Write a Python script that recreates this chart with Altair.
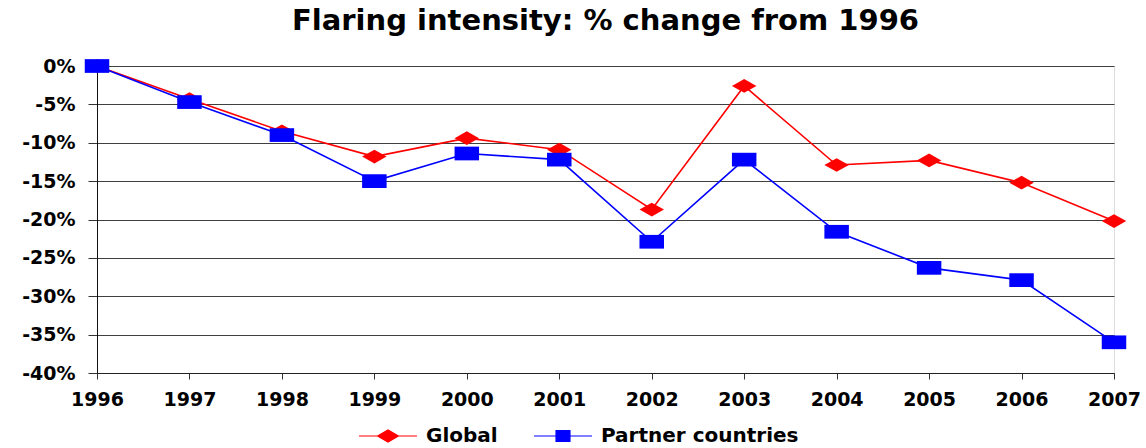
import altair as alt
import pandas as pd

years = [1996, 1997, 1998, 1999, 2000, 2001, 2002, 2003, 2004, 2005, 2006, 2007]
global_pct = [0, -4.3, -8.5, -11.8, -9.4, -10.9, -18.7, -2.6, -12.9, -12.3, -15.2, -20.2]
partner_pct = [0, -4.7, -9.0, -15.0, -11.4, -12.2, -22.9, -12.2, -21.6, -26.3, -27.9, -36.0]
series_names = ["Global", "Partner countries"]
series_colors = ["#FF0000", "#0000FF"]
y_ticks = [0, -5, -10, -15, -20, -25, -30, -35, -40]

df = pd.DataFrame({
    "year": years * 2,
    "value": global_pct + partner_pct,
    "series": [series_names[0]] * len(years) + [series_names[1]] * len(years),
})

FONT = "DejaVu Sans"
W, H = 1017, 307
LEFT, TOP = 97, 66

diamond = "M-1,0L0,-0.56L1,0L0,0.56Z"
rect = "M-1,-0.56H1V0.56H-1Z"
leg_diamond = "M-1,0H1M-0.36,0L0,-0.21L0.36,0L0,0.21Z"
leg_rect = "M-1,0H1M-0.24,-0.19H0.24V0.19H-0.24Z"

x_enc = alt.X("year:Q", scale=alt.Scale(domain=[1996, 2007], nice=False, zero=False),
              axis=alt.Axis(values=years, format="d", title=None, grid=False,
                            labelFont=FONT, labelFontSize=19, labelFontWeight="bold",
                            labelColor="black", labelPadding=11, tickSize=6,
                            tickColor="#333333", domainColor="#222222",
                            labelOverlap=False, labelBound=False, labelFlush=False))
y_enc = alt.Y("value:Q", scale=alt.Scale(domain=[-40, 0], nice=False, zero=False),
              axis=alt.Axis(values=y_ticks, title=None, grid=True, gridColor="#404040",
                            gridWidth=1, labelExpr="datum.value + '%'",
                            labelFont=FONT, labelFontSize=19, labelFontWeight="bold",
                            labelColor="black", labelPadding=13, tickSize=9,
                            tickColor="#333333", domainColor="#111111",
                            labelOverlap=False, labelBound=False, labelFlush=False))


def series_layers(name, color, shape, leg_shape, leg_x):
    base = alt.Chart(df).transform_filter(alt.datum.series == name)
    line = base.mark_line(color=color, strokeWidth=1.6, clip=False).encode(x=x_enc, y=y_enc)
    pts = base.mark_point(shape=shape, size=600, filled=True, opacity=1, clip=False).encode(
        x=x_enc, y=y_enc,
        color=alt.Color("series:N",
                        scale=alt.Scale(domain=[name], range=[color]),
                        legend=alt.Legend(title=None, orient="none", legendX=leg_x, legendY=340,
                                          symbolType=leg_shape, symbolSize=3364,
                                          symbolStrokeColor=color, symbolStrokeWidth=1.2,
                                          labelFont=FONT, labelFontSize=20, labelFontWeight="bold",
                                          labelColor="black", labelOffset=8, labelLimit=0,
                                          padding=0)),
    )
    return [line, pts]


layers = (series_layers(series_names[0], series_colors[0], diamond, leg_diamond, 261)
          + series_layers(series_names[1], series_colors[1], rect, leg_rect, 436))

chart = alt.layer(*layers).resolve_scale(color="independent").properties(
    width=W, height=H,
    title=alt.TitleParams("Flaring intensity: % change from 1996", font=FONT, fontSize=29,
                          fontWeight="bold", color="black", anchor="middle", offset=21),
).configure_view(stroke="#888888", strokeWidth=1.5).properties(
    autosize=alt.AutoSizeParams(type="none"),
    padding={"left": LEFT, "top": TOP, "right": 1146 - LEFT - W, "bottom": 448 - TOP - H},
).configure(background="white")

chart.save("out.html", embed_options={"renderer": "svg", "actions": False})
